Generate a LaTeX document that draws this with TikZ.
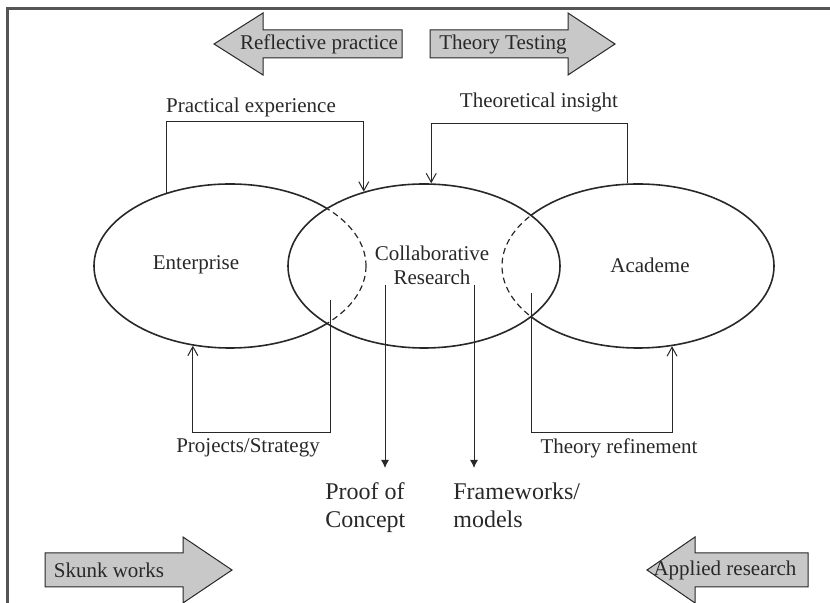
\documentclass[tikz,border=0pt]{standalone}
\usepackage{fontspec}
\setmainfont{Liberation Serif}
\usetikzlibrary{arrows.meta,positioning,shapes.geometric,calc}
\definecolor{blockGrey}{RGB}{200,200,200}
\definecolor{inkGrey}{RGB}{40,40,40}
\definecolor{frameGrey}{RGB}{85,85,85}

\begin{document}
\begin{tikzpicture}[
  x=0.5pt,y=-0.5pt,
  sphere/.style={
    ellipse,
    draw=inkGrey,
    line width=0.8pt,
    minimum width=136pt,
    minimum height=82pt,
    inner sep=0pt
  },
  hidden/.style={draw=inkGrey,line width=0.6pt,dash pattern=on 3pt off 2pt},
  link/.style={draw=inkGrey,line width=0.5pt},
  feed/.style={link,-{Straight Barb[length=4.5pt,width=5pt]}},
  yield/.style={link,-{Latex[length=4pt,width=4pt]}},
  blockarrow/.style={draw=inkGrey,fill=blockGrey,line width=0.5pt},
  label/.style={font=\fontsize{10.5}{12}\selectfont,text=inkGrey,inner sep=0pt},
  outcome/.style={
    font=\fontsize{12}{14}\selectfont,
    text=inkGrey,
    align=left,
    inner sep=0pt,
    anchor=north west
  }
]
  \useasboundingbox (0,0) rectangle (830,603);
  \draw[frameGrey,line width=1.5pt] (7,603) |- (830,9);

  % block arrows along the top and bottom
  \draw[blockarrow] (214,44) -- (263,13) -- (263,30) -- (402,30)
    -- (402,58) -- (263,58) -- (263,75) -- cycle;
  \draw[blockarrow] (615,44) -- (568,13) -- (568,30) -- (430,30)
    -- (430,58) -- (568,58) -- (568,75) -- cycle;
  \draw[blockarrow] (232,570) -- (183,537) -- (183,553) -- (45,553)
    -- (45,587) -- (183,587) -- (183,603) -- cycle;
  \draw[blockarrow] (647,570) -- (695,537) -- (695,553) -- (808,553)
    -- (808,587) -- (695,587) -- (695,603) -- cycle;
  \node[label] (reflect) at (319,44) {Reflective practice};
  \node[label] (testing) at (503,44) {Theory Testing};
  \node[label] (skunk) at (109,570) {Skunk works};
  \node[label] (applied) at (725,570) {Applied research};

  % the three overlapping domains
  \node[sphere] (ent) at (230,266) {};
  \node[sphere] (acad) at (638,266) {};
  \node[sphere,fill=white] (collab) at (424,266) {};
  \begin{scope}
    \clip (424,266) ellipse [x radius=136, y radius=82];
    \draw[hidden] (230,266) ellipse [x radius=136, y radius=82];
    \draw[hidden] (638,266) ellipse [x radius=136, y radius=82];
  \end{scope}
  \node[label] (enttext) at (196,265) {Enterprise};
  \node[label,align=center] (crtext) at (432,265) {Collaborative\\Research};
  \node[label] (acadtext) at (650,265) {Academe};

  % feedback loops
  \node[label] (practical) at (251,107) {Practical experience};
  \node[label] (insight) at (539,102) {Theoretical insight};
  \node[label] (projects) at (248,448) {Projects/Strategy};
  \node[label] (refine) at (619,448) {Theory refinement};
  \coordinate (perail) at (0,122);
  \coordinate (tirail) at (0,124);
  \coordinate (lowrail) at (0,433);
  \coordinate (ps) at (330,300);
  \coordinate (tr) at (531,293);
  \draw[feed] (ent.131.5) -- (ent.131.5 |- perail) -| (collab.129.8);
  \draw[feed] (acad.97) -- (acad.97 |- tirail) -| (collab.85.8);
  \draw[feed] (ps) -- (ps |- lowrail) -| (ent.245.5);
  \draw[feed] (tr) -- (tr |- lowrail) -| (acad.293.8);

  % outcomes
  \node[outcome] (proof) at (325,482) {Proof of\\Concept};
  \node[outcome] (frameworks) at (453,482) {Frameworks/\\models};
  \coordinate (poc) at (385,0);
  \coordinate (fwk) at (474,0);
  \draw[yield] (crtext.south -| poc) -- ($(proof.north -| poc)+(0,-14)$);
  \draw[yield] (crtext.south -| fwk) -- ($(frameworks.north -| fwk)+(0,-14)$);
\end{tikzpicture}
\end{document}
